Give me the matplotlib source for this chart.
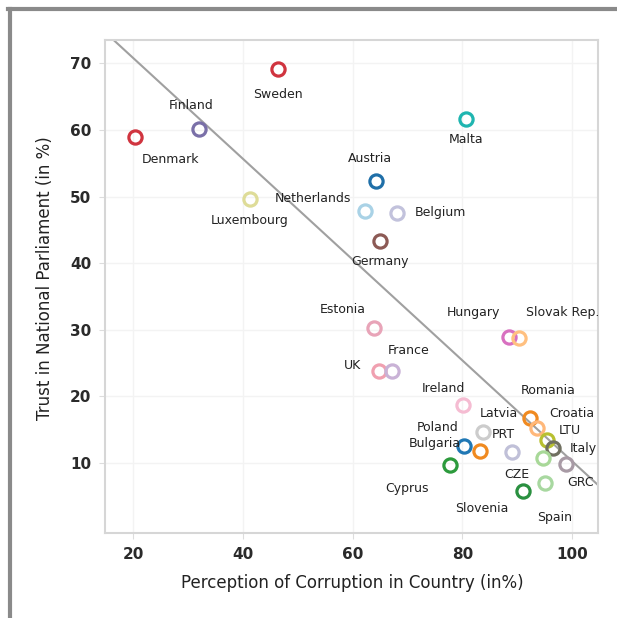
import matplotlib
matplotlib.use("Agg")
import matplotlib.pyplot as plt
from matplotlib.lines import Line2D

countries = ["Denmark", "Finland", "Sweden", "Luxembourg", "Netherlands", "Belgium",
             "Austria", "Germany", "Malta", "Estonia", "UK", "France", "Hungary",
             "Slovak Rep.", "Ireland", "Romania", "Croatia", "Latvia", "PRT", "Poland",
             "Bulgaria", "LTU", "Italy", "CZE", "Cyprus", "GRC", "Slovenia", "Spain"]
corruption = [20.4, 32.0, 46.4, 41.3, 62.3, 68.1, 64.3, 65.0, 80.7, 63.9, 64.8, 67.2, 88.5,
              90.3, 80.1, 92.3, 93.6, 83.8, 89.0, 80.3, 83.2, 95.4, 96.5, 94.7, 77.7, 98.9,
              91.0, 95.0]
trust = [58.9, 60.2, 69.1, 49.7, 47.8, 47.6, 52.4, 43.3, 61.7, 30.2, 23.8, 23.8, 28.9,
         28.7, 18.7, 16.7, 15.2, 14.6, 11.6, 12.5, 11.8, 13.4, 12.2, 10.7, 9.7, 9.9,
         5.8, 7.0]
colors = ["#d0343f", "#7a70a8", "#d0343f", "#dedc98", "#a9d2e6", "#c2c2dc",
          "#1f6fa8", "#8c5a55", "#1fb5b0", "#e8a4b8", "#f0a0b0", "#c9b2d6", "#d870c0",
          "#ffc080", "#f5bcd2", "#f08a20", "#ffb87a", "#cccccc", "#c0c0d8", "#1f77b4",
          "#f08a20", "#b8c030", "#707060", "#a8d898", "#2c9a3c", "#a89aa5", "#2a9040",
          "#a8d8a0"]
# label offsets in pixels (dx right, dy down)
label_dx = [35, -8, 0, 0, -52, 43, -6, 0, 0, -31, -26, 16, -36, 44, -20, 18, 35, 16, -8,
            -26, -45, 23, 30, -26, -43, 14, -41, 10]
label_dy = [22, -23, 25, 22, -13, 0, -22, 20, 21, -19, -6, -21, -25, -26, -17, -28, -15,
            -19, -18, -19, -8, -10, 0, 16, 23, 19, 17, 34]

trend_intercept = 73.7   # value at x = 16.2
trend_x0 = 16.2
trend_slope = -0.757

xticks = [20, 40, 60, 80, 100]
yticks = [10, 20, 30, 40, 50, 60, 70]

W, H = 617, 618
fig = plt.figure(figsize=(W / 100, H / 100), dpi=100)
fig.patch.set_facecolor("white")

# outer frame of the scan
fig.add_artist(Line2D([8 / W, 1], [1 - 9 / H, 1 - 9 / H], color="#8a8a8a", lw=3.0))
fig.add_artist(Line2D([10 / W, 10 / W], [0, 1 - 9 / H], color="#8a8a8a", lw=3.0))

ax = fig.add_axes([105 / W, (H - 533) / H, 493 / W, 493 / H])
ax.set_xlim(14.9, 104.7)
ax.set_ylim(-0.5, 73.5)

for s in ax.spines.values():
    s.set_color("#d6d6d6")
    s.set_linewidth(1.5)
ax.grid(True, color="#f3f3f3", lw=1.0)
ax.set_axisbelow(True)

xs = [ax.get_xlim()[0], ax.get_xlim()[1]]
ax.plot(xs, [trend_intercept + trend_slope * (x - trend_x0) for x in xs],
        color="#a0a0a0", lw=1.5, zorder=2)

for i, c in enumerate(countries):
    ax.plot(corruption[i], trust[i], "o", ms=9.5, mfc="none", mec=colors[i], mew=2.3, zorder=3)
    ax.annotate(c, (corruption[i], trust[i]), xytext=(label_dx[i] * 0.72, -label_dy[i] * 0.72),
                textcoords="offset points", ha="center", va="center", fontsize=9,
                color="#222222", zorder=4)

ax.set_xticks(xticks)
ax.set_yticks(yticks)
ax.tick_params(axis="both", length=4, color="#dddddd", labelsize=11, labelcolor="#2a2a2a", pad=6)
for t in ax.get_xticklabels() + ax.get_yticklabels():
    t.set_fontweight("bold")

fig.text(352 / W, 1 - 583 / H, "Perception of Corruption in Country (in%)", ha="center",
         va="center", fontsize=12, color="#222222")
fig.text(45 / W, 1 - 278 / H, "Trust in National Parliament (in %)", ha="center",
         va="center", rotation=90, fontsize=12, color="#222222")

fig.savefig("out.png", dpi=100, facecolor="white")
